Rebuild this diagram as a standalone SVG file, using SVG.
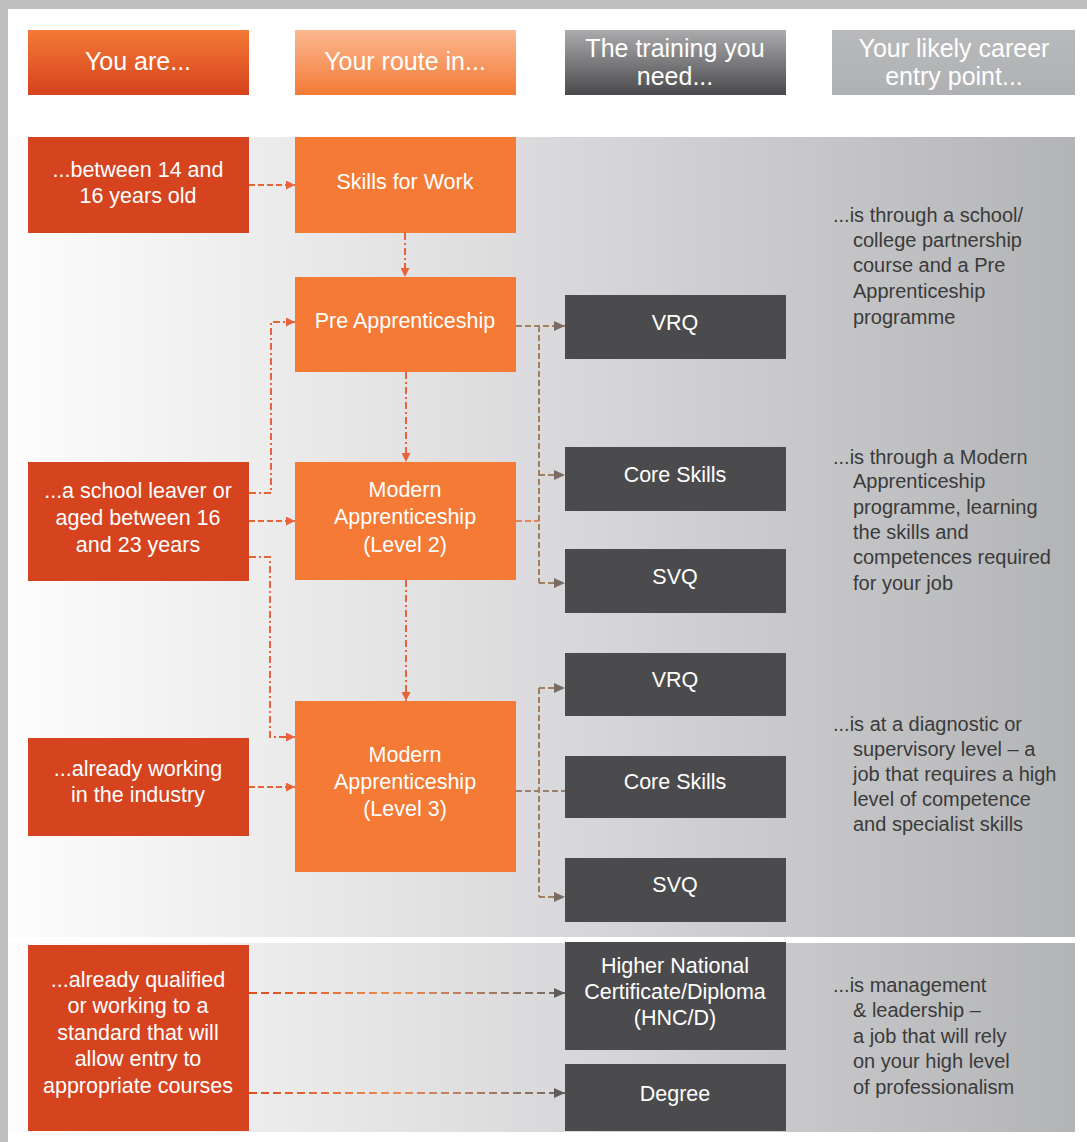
<svg xmlns="http://www.w3.org/2000/svg" width="1087" height="1142" viewBox="0 0 1087 1142">
<defs>
<linearGradient id="band" x1="8" y1="0" x2="1075" y2="0" gradientUnits="userSpaceOnUse">
<stop offset="0" stop-color="#fdfdfd"/><stop offset="0.5" stop-color="#dadadc"/><stop offset="1" stop-color="#b3b4b6"/>
</linearGradient>
<linearGradient id="hYou" x1="0" y1="0" x2="0" y2="1"><stop offset="0" stop-color="#f47a36"/><stop offset="1" stop-color="#d6421e"/></linearGradient>
<linearGradient id="hRoute" x1="0" y1="0" x2="0" y2="1"><stop offset="0" stop-color="#fbb890"/><stop offset="1" stop-color="#f47a36"/></linearGradient>
<linearGradient id="hTrain" x1="0" y1="0" x2="0" y2="1"><stop offset="0" stop-color="#ababad"/><stop offset="1" stop-color="#4a4a4c"/></linearGradient>
<linearGradient id="hCareer" x1="0" y1="0" x2="0" y2="1"><stop offset="0" stop-color="#b8b9bb"/><stop offset="1" stop-color="#b0b1b3"/></linearGradient>
<linearGradient id="bot" x1="249" y1="0" x2="565" y2="0" gradientUnits="userSpaceOnUse">
<stop offset="0" stop-color="#dc4a24"/><stop offset="0.45" stop-color="#f08a50"/><stop offset="1" stop-color="#6e6a68"/>
</linearGradient>
<marker id="aO" markerUnits="userSpaceOnUse" markerWidth="10" markerHeight="9" refX="9" refY="4.5" orient="auto"><path d="M0,0 L9,4.5 L0,9 z" fill="#e8623a"/></marker>
<marker id="aB" markerUnits="userSpaceOnUse" markerWidth="12" markerHeight="10" refX="11" refY="5" orient="auto"><path d="M0,0 L11,5 L0,10 z" fill="#7a6c64"/></marker>
<marker id="aG" markerUnits="userSpaceOnUse" markerWidth="12" markerHeight="10" refX="11" refY="5" orient="auto"><path d="M0,0 L11,5 L0,10 z" fill="#5e5c5c"/></marker>
</defs>
<style>
.hd{font-family:"Liberation Sans",Arial,sans-serif;font-size:25px;fill:#ffffff;text-anchor:middle}
.nt{font-family:"Liberation Sans",Arial,sans-serif;font-size:21.5px;fill:#ffffff;text-anchor:middle}
.rt{font-family:"Liberation Sans",Arial,sans-serif;font-size:20px;fill:#3a3a3a}
.you{fill:#d6431f}
.route{fill:#f47a35}
.train{fill:#4b4b4d}
.co{fill:none;stroke:#e8623a;stroke-width:2;stroke-dasharray:7 3 2 3}
.cd{fill:none;stroke:#e8623a;stroke-width:2;stroke-dasharray:6 3}
.cb{fill:none;stroke:#a0805f;stroke-width:2;stroke-dasharray:6 3}
.cg{fill:none;stroke:url(#bot);stroke-width:2;stroke-dasharray:8 4}
</style>
<rect x="0" y="0" width="1087" height="1142" fill="#c0c0c0"/>
<rect x="8" y="9" width="1079" height="1133" fill="#ffffff"/>
<rect x="8" y="137" width="1067" height="800" fill="url(#band)"/>
<rect x="8" y="943" width="1067" height="189" fill="url(#band)"/>

<g id="header-you"><rect x="28" y="30" width="221" height="65" fill="url(#hYou)"/><text class="hd" x="138" y="70">You are...</text></g>
<g id="header-route"><rect x="295" y="30" width="221" height="65" fill="url(#hRoute)"/><text class="hd" x="405" y="70">Your route in...</text></g>
<g id="header-training"><rect x="565" y="30" width="221" height="65" fill="url(#hTrain)"/><text class="hd" x="675" y="57">The training you</text><text class="hd" x="675" y="85">need...</text></g>
<g id="header-career"><rect x="832" y="30" width="243" height="65" fill="url(#hCareer)"/><text class="hd" x="954" y="57">Your likely career</text><text class="hd" x="954" y="85">entry point...</text></g>

<g id="connectors">
<path class="cd" d="M249,185 H295" marker-end="url(#aO)"/>
<path class="co" d="M405,233 V277" marker-end="url(#aO)"/>
<path class="co" d="M249,493 H271 V322 H295" marker-end="url(#aO)"/>
<path class="cd" d="M249,521 H295" marker-end="url(#aO)"/>
<path class="co" d="M249,557 H270 V737 H295" marker-end="url(#aO)"/>
<path class="co" d="M406,372 V462" marker-end="url(#aO)"/>
<path class="co" d="M406,580 V701" marker-end="url(#aO)"/>
<path class="cd" d="M249,787 H295" marker-end="url(#aO)"/>
<path class="cb" d="M516,326 H565" marker-end="url(#aB)"/>
<path class="cb" d="M539,326 V583"/>
<path class="cb" d="M539,475 H565" marker-end="url(#aB)"/>
<path class="cb" d="M539,583 H565" marker-end="url(#aB)"/>
<path class="cb" d="M516,521 H539" style="stroke:#e8845a"/>
<path class="cb" d="M516,791 H565" style="stroke:#9a8070"/>
<path class="cb" d="M539,688 V897"/>
<path class="cb" d="M539,688 H565" marker-end="url(#aB)"/>
<path class="cb" d="M539,897 H565" marker-end="url(#aB)"/>
<path class="cg" d="M249,993 H565" marker-end="url(#aG)"/>
<path class="cg" d="M249,1093 H565" marker-end="url(#aG)"/>
</g>

<g id="you-14-16"><rect class="you" x="28" y="137" width="221" height="96"/><text class="nt" x="138" y="177">...between 14 and</text><text class="nt" x="138" y="203">16 years old</text></g>
<g id="you-school-leaver"><rect class="you" x="28" y="462" width="221" height="119"/><text class="nt" x="138" y="498">...a school leaver or</text><text class="nt" x="138" y="525">aged between 16</text><text class="nt" x="138" y="552">and 23 years</text></g>
<g id="you-working"><rect class="you" x="28" y="738" width="221" height="98"/><text class="nt" x="138" y="776">...already working</text><text class="nt" x="138" y="802">in the industry</text></g>
<g id="you-qualified"><rect class="you" x="28" y="945" width="221" height="186"/><text class="nt" x="138" y="987">...already qualified</text><text class="nt" x="138" y="1013">or working to a</text><text class="nt" x="138" y="1040">standard that will</text><text class="nt" x="138" y="1066">allow entry to</text><text class="nt" x="138" y="1093">appropriate courses</text></g>

<g id="route-skills"><rect class="route" x="295" y="137" width="221" height="96"/><text class="nt" x="405" y="189">Skills for Work</text></g>
<g id="route-pre"><rect class="route" x="295" y="277" width="221" height="95"/><text class="nt" x="405" y="328">Pre Apprenticeship</text></g>
<g id="route-ma2"><rect class="route" x="295" y="462" width="221" height="118"/><text class="nt" x="405" y="497">Modern</text><text class="nt" x="405" y="524">Apprenticeship</text><text class="nt" x="405" y="552">(Level 2)</text></g>
<g id="route-ma3"><rect class="route" x="295" y="701" width="221" height="171"/><text class="nt" x="405" y="762">Modern</text><text class="nt" x="405" y="789">Apprenticeship</text><text class="nt" x="405" y="816">(Level 3)</text></g>

<g id="train-vrq1"><rect class="train" x="565" y="295" width="221" height="64"/><text class="nt" x="675" y="330">VRQ</text></g>
<g id="train-core1"><rect class="train" x="565" y="447" width="221" height="64"/><text class="nt" x="675" y="482">Core Skills</text></g>
<g id="train-svq1"><rect class="train" x="565" y="549" width="221" height="64"/><text class="nt" x="675" y="584">SVQ</text></g>
<g id="train-vrq2"><rect class="train" x="565" y="653" width="221" height="63"/><text class="nt" x="675" y="687">VRQ</text></g>
<g id="train-core2"><rect class="train" x="565" y="756" width="221" height="62"/><text class="nt" x="675" y="789">Core Skills</text></g>
<g id="train-svq2"><rect class="train" x="565" y="858" width="221" height="64"/><text class="nt" x="675" y="892">SVQ</text></g>
<g id="train-hnc"><rect class="train" x="565" y="942" width="221" height="108"/><text class="nt" x="675" y="973">Higher National</text><text class="nt" x="675" y="999">Certificate/Diploma</text><text class="nt" x="675" y="1025">(HNC/D)</text></g>
<g id="train-degree"><rect class="train" x="565" y="1064" width="221" height="67"/><text class="nt" x="675" y="1101">Degree</text></g>

<g id="career-1"><text class="rt" x="833" y="222">...is through a school/</text><text class="rt" x="853" y="247">college partnership</text><text class="rt" x="853" y="272">course and a Pre</text><text class="rt" x="853" y="298">Apprenticeship</text><text class="rt" x="853" y="324">programme</text></g>
<g id="career-2"><text class="rt" x="833" y="464">...is through a Modern</text><text class="rt" x="853" y="488">Apprenticeship</text><text class="rt" x="853" y="514">programme, learning</text><text class="rt" x="853" y="539">the skills and</text><text class="rt" x="853" y="564">competences required</text><text class="rt" x="853" y="590">for your job</text></g>
<g id="career-3"><text class="rt" x="833" y="731">...is at a diagnostic or</text><text class="rt" x="853" y="756">supervisory level – a</text><text class="rt" x="853" y="781">job that requires a high</text><text class="rt" x="853" y="806">level of competence</text><text class="rt" x="853" y="831">and specialist skills</text></g>
<g id="career-4"><text class="rt" x="833" y="992">...is management</text><text class="rt" x="853" y="1017">&amp; leadership –</text><text class="rt" x="853" y="1043">a job that will rely</text><text class="rt" x="853" y="1068">on your high level</text><text class="rt" x="853" y="1094">of professionalism</text></g>
</svg>
